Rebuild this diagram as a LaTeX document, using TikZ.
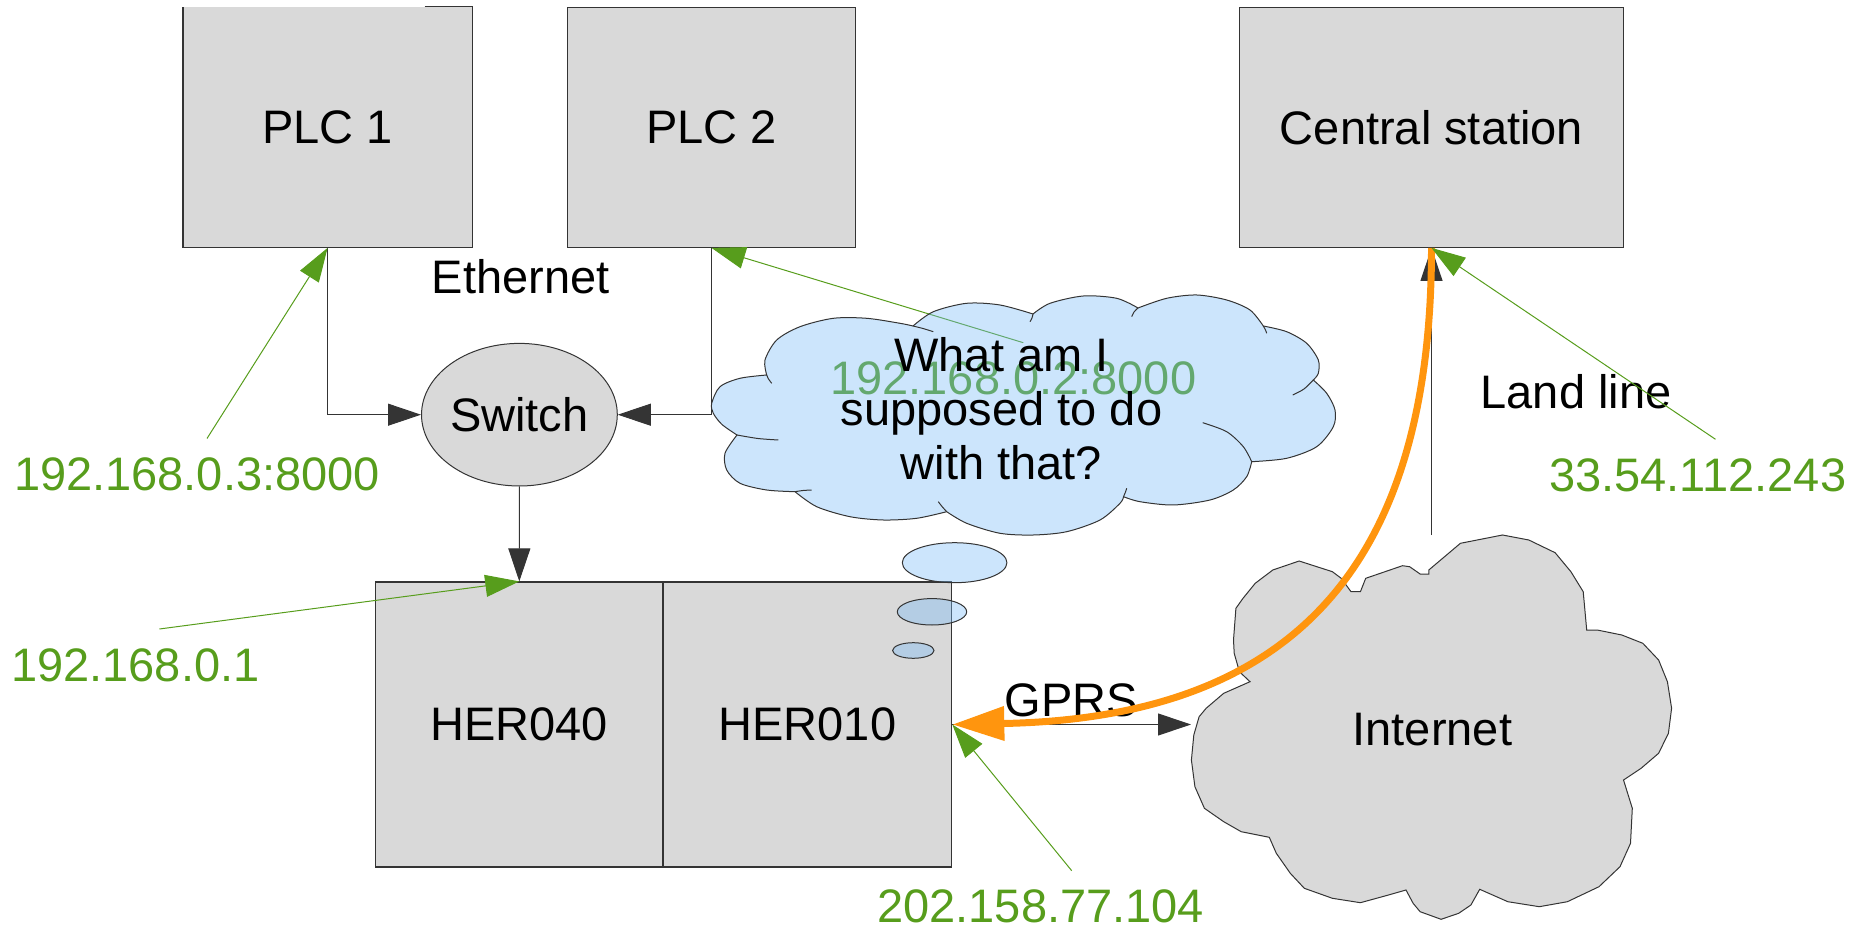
\documentclass[tikz,border=0pt]{standalone}
\usepackage{fontspec}
\setmainfont{Liberation Sans}
\usetikzlibrary{arrows.meta,shapes.geometric}
\definecolor{boxfill}{RGB}{217,217,217}
\definecolor{linec}{RGB}{52,52,52}
\definecolor{ipgreen}{RGB}{87,157,28}
\definecolor{gorange}{RGB}{255,149,14}
\definecolor{thinkblue}{RGB}{121,187,247}
\begin{document}
\begin{tikzpicture}[x=0.5pt,y=0.5pt,
  txt/.style={font=\fontsize{23.5}{27}\selectfont},
  box/.style={txt, rectangle, fill=boxfill, draw=linec, line width=0.6pt, inner sep=0pt},
  lbl/.style={txt, inner sep=0pt, anchor=base},
  iplbl/.style={lbl, text=ipgreen},
  conn/.style={draw=linec, line width=0.5pt, -{Triangle[length=16.5pt,width=11pt]}},
  ipline/.style={draw=ipgreen, line width=0.5pt, -{Triangle[length=17pt,width=11pt]}},
  outline/.style={draw=linec, line width=0.5pt},
  thinkfill/.style={outline, fill=thinkblue, fill opacity=0.38},
  gprsline/.style={draw=gorange, line width=3.5pt, {Triangle[length=26pt,width=16.5pt]}-}
]
\useasboundingbox (0,0) rectangle (1868,928);

% ---- boxes ----
\node[box, draw=none, minimum width=144.1pt, minimum height=120pt] (plc1) at (327.6,800.7) {PLC 1};
\draw[outline, line width=0.6pt] ([xshift=-23.85pt]plc1.north east) -- (plc1.north east) -- (plc1.south east) -- (plc1.south west) -- (plc1.north west);
\node[box, minimum width=144.2pt, minimum height=120pt] (plc2) at (711.5,800.7) {PLC 2};
\node[box, minimum width=192pt, minimum height=120pt] (central) at (1431.5,800.7) {Central station};
\node[box, minimum width=143.7pt, minimum height=142.5pt] (her040) at (519.3,203.5) {HER040};
\node[box, minimum width=144.35pt, minimum height=142.5pt] (her010) at (807.35,203.5) {HER010};
\node[txt, ellipse, fill=boxfill, draw=linec, line width=0.5pt, minimum width=96.2pt, minimum height=71.3pt, inner sep=0pt] (switch) at (519.4,513.3) {Switch};

\node[lbl] (eth) at (520.8,634.7) {Ethernet};

% ---- ethernet connectors ----
\draw[conn] (plc1.south) |- (switch.west);
\draw[conn] (plc2.south) |- (switch.east);
\draw[conn] (switch.south) -- (her040.north);

% ---- internet cloud ----
\filldraw[outline, fill=boxfill] (1502.5,393) -- (1528.8,388) -- (1555.1,375.3) -- (1570.9,356.3) -- (1583.2,336.3) -- (1586.7,298) -- (1597.2,298) -- (1621.8,293) -- (1642.8,284.7) -- (1658.6,268) -- (1667.4,246.3) -- (1671.6,219.7) -- (1668.4,194.7) -- (1658.6,174.7) -- (1641.1,159.7) -- (1623.5,148) -- (1632.3,119.7) -- (1630.5,84.7) -- (1620,61.3) -- (1599,41.3) -- (1567.4,26.3) -- (1539.3,21.3) -- (1507.8,26.3) -- (1479.7,38.7) -- (1470.9,23) -- (1458.7,14.7) -- (1441.1,8.7) -- (1420.1,16.3) -- (1413.1,24.7) -- (1406,38) -- (1388.5,33) -- (1360.4,25.3) -- (1332.4,29.7) -- (1304.3,39.7) -- (1290.3,54.7) -- (1276.3,74.7) -- (1269.3,90.7) -- (1241.2,96.3) -- (1223.7,106.3) -- (1204.4,119.7) -- (1194.9,141.3) -- (1191.4,168) -- (1193.8,193) -- (1199.1,211.3) -- (1206.1,219.7) -- (1223.7,234.7) -- (1250,246.3) -- (1239.4,256.3) -- (1234.2,274.7) -- (1233.5,288) -- (1235.9,319.7) -- (1243,329.7) -- (1255.2,344.7) -- (1272.8,358) -- (1299.1,367) -- (1332.4,356.3) -- (1341.2,349.7) -- (1351,336.3) -- (1360.4,336.3) -- (1365.7,349.7) -- (1402.5,362.3) -- (1409.6,361.3) -- (1420.1,354) -- (1428.8,354) -- (1428.8,358) -- (1460.4,384.7) -- cycle;
\node[lbl] (inet) at (1432.4,183) {Internet};
\coordinate (inetW) at (1191,203.5);
\coordinate (inetTop) at (1431.5,393);

\draw[conn] (her010.east) -- (inetW);
\node[lbl] (gprs) at (1071.3,211.3) {GPRS};
\draw[conn] (inetTop) -- (central.south);
\node[lbl] (land) at (1576,519.7) {Land line};

% ---- label under the thought cloud ----
\node[iplbl] (ip2) at (1013.3,533) {192.168.0.2:8000};
\coordinate (t2) at (1023.3,585.3);
\draw[ipline] (t2) -- (plc2.south);

% ---- thought cloud ----
\filldraw[thinkfill]
  plot[smooth] coordinates {(737,493) (722,503.5) (713.3,514.7) (711.7,524.7) (720,541.3) (740,549.7) (766.7,553)}
  -- plot[smooth] coordinates {(766.7,553) (765,568) (776.7,588) (800,601.3) (833.3,609.7) (866.7,609.7) (900,604.7) (913,602)}
  -- plot[smooth] coordinates {(913,602) (933.3,616.3) (966.7,624.7) (1000,623) (1033,614)}
  -- plot[smooth] coordinates {(1033,614) (1050,624.7) (1083.3,632) (1116.7,629.7) (1138,620)}
  -- plot[smooth] coordinates {(1138,620) (1166.7,629.7) (1196.7,633) (1226.7,628) (1250,618) (1263.3,602)}
  -- plot[smooth] coordinates {(1263.3,602) (1286.7,596.3) (1306.7,584.7) (1318.3,568) (1318.3,554.7) (1313.3,548)}
  -- plot[smooth] coordinates {(1313.3,548) (1326.7,534.7) (1335,518) (1333.3,501.3) (1316.7,481.3) (1286.7,469.7) (1251.7,466.3)}
  -- plot[smooth] coordinates {(1251.7,466.3) (1246.7,451.3) (1233.3,438) (1210,428) (1173.3,423) (1140,426.3) (1123.5,431.3)}
  -- plot[smooth] coordinates {(1123.5,431.3) (1120,424.7) (1100,408) (1066.7,396.3) (1033.3,393) (1000,394.7) (966.7,404.7) (946.7,416.3)}
  -- plot[smooth] coordinates {(946.7,416.3) (916.7,409.7) (883.3,408) (850,411.3) (816.7,421.3) (795,436.3)}
  -- plot[smooth] coordinates {(795,436.3) (766.7,438) (740,444.7) (726.7,458) (725,474.7) (737,493)}
  -- cycle;
% hooks of the cloud lobes
\draw[outline] plot[smooth] coordinates {(766.7,553) (768.5,549) (771.7,544.7)};
\draw[outline] plot[smooth] coordinates {(913,602) (923,599.5) (933.3,596.3)};
\draw[outline] plot[smooth] coordinates {(1033,614) (1032,610) (1030,606.3)};
\draw[outline] plot[smooth] coordinates {(1138,620) (1134,616) (1131.7,611.3)};
\draw[outline] plot[smooth] coordinates {(1263.3,602) (1265.5,598) (1266.7,594.7)};
\draw[outline] plot[smooth] coordinates {(1313.3,548) (1304,539) (1292.7,533)};
\draw[outline] plot[smooth] coordinates {(1251.7,466.3) (1243.3,481.3) (1226.7,496.3) (1202.7,505.3)};
\draw[outline] plot[smooth] coordinates {(1123.5,431.3) (1125.5,436) (1126.7,439.7)};
\draw[outline] plot[smooth] coordinates {(946.7,416.3) (942,421.5) (938.3,426.3)};
\draw[outline] plot[smooth] coordinates {(795,436.3) (803,437.5) (811.7,438)};
\draw[outline] plot[smooth] coordinates {(737,493) (758,489.5) (778.3,488)};
% bubbles
\filldraw[thinkfill] (954.6,365.3) ellipse [x radius=26.15pt, y radius=10pt];
\filldraw[thinkfill] (932,316.2) ellipse [x radius=17.35pt, y radius=6.6pt];
\filldraw[thinkfill] (913.3,277.5) ellipse [x radius=10.35pt, y radius=3.9pt];
\node[txt, align=center, inner sep=0pt] (think) at (1001.5,519.3) {What am I\\supposed to do\\with that?};

% ---- GPRS route ----
\draw[gprsline] (her010.east) .. controls (1285,210) and (1431.4,353) .. (central.south);

% ---- IP labels ----
\coordinate (t1) at (207,489.5);
\draw[ipline] (t1) -- (plc1.south);
\node[iplbl] (ip3) at (197,437.3) {192.168.0.3:8000};
\coordinate (t0) at (159.4,299);
\draw[ipline] (t0) -- (her040.north);
\node[iplbl] (ip1) at (135.4,246.3) {192.168.0.1};
\coordinate (t4) at (1715.5,488.7);
\draw[ipline] (t4) -- (central.south);
\node[iplbl] (ipc) at (1697.7,436.3) {33.54.112.243};
\coordinate (t5) at (1071.7,57.3);
\draw[ipline] (t5) -- (her010.east);
\node[iplbl] (ipg) at (1040.7,5.5) {202.158.77.104};
\end{tikzpicture}
\end{document}
